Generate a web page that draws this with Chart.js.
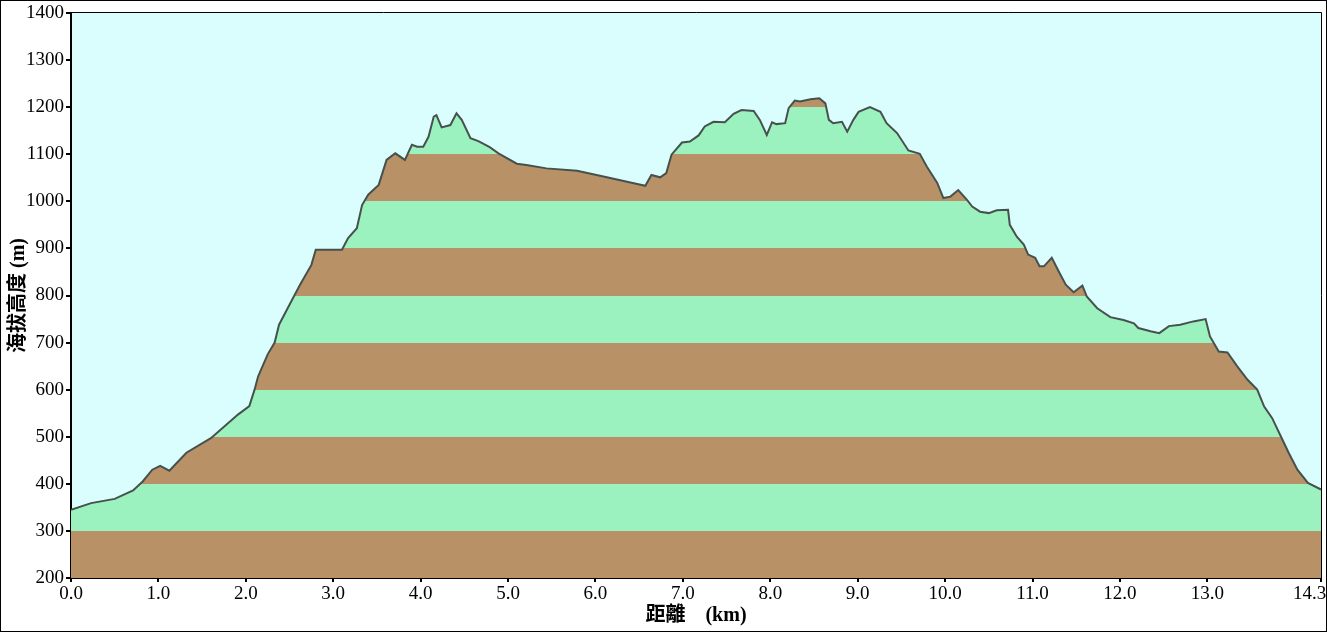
<!DOCTYPE html>
<html>
<head>
<meta charset="utf-8">
<script src="https://cdn.jsdelivr.net/npm/chart.js@4.4.1/dist/chart.umd.min.js"></script>
<style>
  html, body { margin: 0; padding: 0; background: #fff; }
  #wrap { position: relative; width: 1327px; height: 632px; }
</style>
</head>
<body>
<div id="wrap"><canvas id="profileChart"></canvas></div>
<script>
// elevation profile
const distKm = [
  0.00, 0.23, 0.50, 0.71, 0.82, 0.93, 1.02, 1.125, 1.32, 1.60,
  1.75, 1.91, 2.04, 2.10, 2.14, 2.25, 2.33, 2.38, 2.51, 2.62,
  2.75, 2.80, 3.10, 3.17, 3.27, 3.33, 3.40, 3.52, 3.61, 3.71,
  3.82, 3.90, 3.96, 4.03, 4.09, 4.15, 4.18, 4.24, 4.34, 4.41,
  4.47, 4.57, 4.66, 4.79, 4.89, 5.10, 5.21, 5.44, 5.79, 6.13,
  6.40, 6.57, 6.64, 6.74, 6.81, 6.87, 6.99, 7.08, 7.18, 7.25,
  7.35, 7.48, 7.58, 7.67, 7.81, 7.88, 7.96, 8.02, 8.07, 8.17,
  8.21, 8.28, 8.34, 8.46, 8.56, 8.63, 8.67, 8.72, 8.82, 8.88,
  8.95, 9.01, 9.14, 9.26, 9.33, 9.45, 9.58, 9.71, 9.79, 9.91,
  9.98, 10.06, 10.15, 10.25, 10.31, 10.40, 10.50, 10.59, 10.72, 10.74,
  10.82, 10.90, 10.95, 11.03, 11.08, 11.13, 11.22, 11.30, 11.38, 11.47,
  11.57, 11.62, 11.74, 11.89, 12.04, 12.16, 12.21, 12.35, 12.45, 12.56,
  12.69, 12.84, 12.98, 13.03, 13.13, 13.23, 13.34, 13.46, 13.57, 13.65,
  13.74, 13.84, 13.93, 14.03, 14.15, 14.30
];
const elevM = [
  345, 359, 368, 386, 405, 430, 438, 428, 466, 497,
  521, 547, 565, 600, 628, 675, 700, 738, 784, 823,
  865, 897, 897, 922, 943, 992, 1014, 1035, 1088, 1102,
  1088, 1120, 1116, 1116, 1137, 1180, 1183, 1157, 1162, 1187,
  1173, 1134, 1128, 1115, 1102, 1080, 1077, 1070, 1065, 1051,
  1040, 1033, 1056, 1051, 1060, 1099, 1125, 1127, 1140, 1159,
  1169, 1168, 1186, 1194, 1192, 1173, 1141, 1168, 1164, 1166,
  1198, 1214, 1212, 1217, 1219, 1208, 1173, 1166, 1169, 1148,
  1173, 1190, 1200, 1190, 1166, 1145, 1108, 1101, 1074, 1039,
  1007, 1010, 1024, 1003, 989, 978, 975, 981, 982, 950,
  925, 908, 887, 880, 862, 862, 880, 851, 823, 807,
  821, 798, 773, 754, 748, 741, 731, 724, 720, 735,
  738, 745, 750, 713, 681, 679, 650, 621, 600, 564,
  540, 501, 466, 430, 402, 388
];
const xTicks = [0, 1, 2, 3, 4, 5, 6, 7, 8, 9, 10, 11, 12, 13, 14.3];
const yTicks = [200, 300, 400, 500, 600, 700, 800, 900, 1000, 1100, 1200, 1300, 1400];
const bandColors = ['#b99166', '#9cf2be']; // brown, green (every 100 m)

const tickFont = { family: "'Liberation Serif', serif", size: 19 };
const titleFont = { family: "'Liberation Serif', 'Noto Sans CJK TC', serif", size: 20, weight: 'bold' };

// striped fill: one band per 100 m, built from the y scale
function bandFill(context) {
  const chart = context.chart;
  const y = chart.scales.y;
  if (!chart.chartArea || !y) return bandColors[1];
  const lo = yTicks[0], hi = yTicks[yTicks.length - 1];
  const g = chart.ctx.createLinearGradient(0, y.getPixelForValue(lo), 0, y.getPixelForValue(hi));
  const n = yTicks.length - 1;
  for (let i = 0; i < n; i++) {
    const c = bandColors[i % 2];
    g.addColorStop(i / n, c);
    g.addColorStop((i + 1) / n - 0.00001, c);
  }
  return g;
}

const framePlugin = {
  id: 'frame',
  beforeDraw(chart) {
    const { ctx, chartArea: a } = chart;
    ctx.save();
    ctx.fillStyle = '#dafefe';
    ctx.fillRect(a.left, a.top, a.right - a.left, a.bottom - a.top);
    ctx.restore();
  },
  afterDraw(chart) {
    const { ctx, chartArea: a, width, height } = chart;
    ctx.save();
    ctx.strokeStyle = '#000';
    ctx.lineWidth = 1;
    ctx.beginPath();
    ctx.moveTo(a.left, a.top - 0.5);
    ctx.lineTo(a.right + 0.5, a.top - 0.5);
    ctx.lineTo(a.right + 0.5, a.bottom);
    ctx.stroke();
    ctx.strokeRect(0.5, 0.5, width - 1, height - 1);
    ctx.restore();
  }
};

const lastX = xTicks[xTicks.length - 1];

new Chart(document.getElementById('profileChart'), {
  type: 'line',
  data: {
    datasets: [{
      data: distKm.map((d, i) => ({ x: d, y: elevM[i] })),
      borderColor: '#46514d',
      borderWidth: 2,
      backgroundColor: bandFill,
      fill: 'start',
      pointRadius: 0,
      tension: 0
    }]
  },
  plugins: [framePlugin],
  options: {
    responsive: true,
    maintainAspectRatio: false,
    animation: false,
    layout: { padding: { left: 0, right: 6, top: 13, bottom: 0 } },
    plugins: { legend: { display: false }, tooltip: { enabled: false } },
    scales: {
      x: {
        type: 'linear',
        min: 0,
        max: lastX,
        afterBuildTicks: s => { s.ticks = xTicks.map(v => ({ value: v })); },
        afterFit: s => { s.height = 54; s.paddingLeft = 0; s.paddingRight = 0; },
        border: { color: '#000', width: 2 },
        grid: { drawOnChartArea: false, drawTicks: true, tickLength: 4, color: '#000', lineWidth: 2 },
        ticks: {
          color: '#000',
          font: tickFont,
          padding: 1,
          maxRotation: 0,
          autoSkip: false,
          // last label sits left of its tick so it stays inside the picture
          callback: v => v === lastX ? v.toFixed(1) + '\u2003\u2009' : v.toFixed(1)
        },
        title: { display: true, text: '距離\u3000(km)', color: '#000', font: titleFont, padding: { top: 0, bottom: 4 } }
      },
      y: {
        min: 200,
        max: 1400,
        afterBuildTicks: s => { s.ticks = yTicks.map(v => ({ value: v })); },
        afterFit: s => { s.width = 71; s.paddingTop = 0; s.paddingBottom = 0; },
        border: { color: '#000', width: 2 },
        grid: { drawOnChartArea: false, drawTicks: true, tickLength: 5, color: '#000', lineWidth: 2 },
        ticks: { color: '#000', font: tickFont, padding: 2, callback: v => String(v) },
        title: { display: true, text: '海拔高度 (m)', color: '#000', font: titleFont, padding: { top: 7, bottom: 0 } }
      }
    }
  }
});
</script>
</body>
</html>
